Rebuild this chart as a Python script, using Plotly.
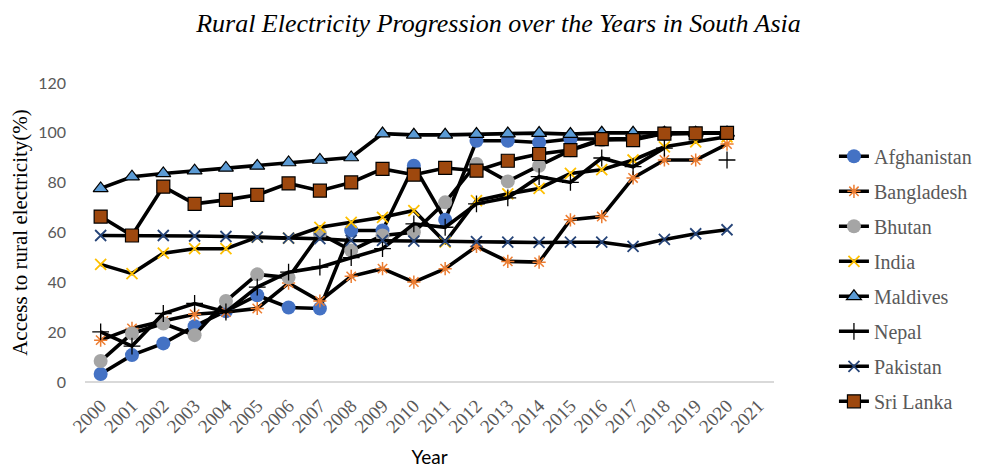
import plotly.graph_objects as go

years = list(range(2000, 2021))
tick_years = list(range(2000, 2022))

afghanistan = [3.2, 10.8, 15.5, 22.4, 28.4, 34.8, 29.9, 29.5, 60.8, 60.8, 86.8, 65.1, 96.8, 96.8, 96.1, 97.5, 97.5, 97.7, 99.7, 99.8, 100]
bangladesh = [16.8, 21.5, 24.5, 27.2, 28.1, 29.5, 39.7, 32.5, 42.4, 45.5, 40.1, 45.5, 54.4, 48.4, 48.1, 65.1, 66.4, 81.9, 89.1, 89.1, 95.5]
bhutan = [8.4, 19.5, 23.5, 18.8, 32.5, 43.2, 41.9, 59.5, 52.8, 58.8, 60.1, 72.1, 87.5, 80.5, 86.8, 93.0, 97.0, 97.5, 99.8, 99.9, 100]
india = [47.2, 43.5, 51.7, 53.5, 53.5, 58.1, 57.7, 62.1, 64.1, 66.1, 68.8, 56.1, 72.8, 75.5, 77.7, 83.7, 85.2, 89.1, 94.4, 96.4, 98.4]
maldives = [77.7, 82.4, 83.7, 84.8, 85.9, 86.7, 88.1, 89.1, 90.1, 99.7, 99.2, 99.2, 99.5, 99.7, 99.9, 99.5, 100, 100, 100, 100, 100]
nepal = [20.1, 14.4, 27.5, 31.5, 28.1, 38.1, 44.1, 46.1, 49.9, 53.5, 63.5, 62.1, 71.5, 73.9, 82.4, 80.1, 89.9, 86.4, 93.9, None, 89.1]
pakistan = [58.8, 58.8, 58.8, 58.6, 58.4, 58.1, 57.7, 57.5, 56.8, 56.8, 56.5, 56.5, 56.3, 56.1, 56.0, 56.1, 56.1, 54.4, 57.2, 59.5, 61.1]
sri_lanka = [66.4, 58.8, 78.4, 71.5, 73.1, 75.1, 79.7, 76.8, 80.1, 85.5, 83.2, 85.9, 84.8, 88.8, 91.5, 93.1, 97.5, 97.1, 99.7, 99.8, 100]

series = [
    ("Afghanistan", afghanistan, dict(symbol="circle", size=14, color="#4472C4")),
    ("Bangladesh", bangladesh, dict(symbol="asterisk-open", size=11, color="#ED7D31", line=dict(color="#ED7D31", width=1.5))),
    ("Bhutan", bhutan, dict(symbol="circle", size=14, color="#A5A5A5")),
    ("India", india, dict(symbol="x-thin-open", size=11, color="#FFC000", line=dict(color="#FFC000", width=1.8))),
    ("Maldives", maldives, dict(symbol="triangle-up", size=13, color="#5B9BD5", line=dict(color="black", width=1.2))),
    ("Nepal", nepal, dict(symbol="cross-thin-open", size=12, color="black", line=dict(color="black", width=1.3))),
    ("Pakistan", pakistan, dict(symbol="x-thin-open", size=11, color="#264478", line=dict(color="#264478", width=1.8))),
    ("Sri Lanka", sri_lanka, dict(symbol="square", size=13, color="#9E480E", line=dict(color="black", width=1.2))),
]

fig = go.Figure()
for i, (name, vals, mk) in enumerate(series):
    fig.add_trace(go.Scatter(
        x=years, y=vals, name=name, mode="lines+markers",
        line=dict(color="black", width=3.6), marker=mk,
        connectgaps=False, legendgroup=f"g{i}",
    ))

fig.update_layout(
    width=981, height=469,
    paper_bgcolor="white", plot_bgcolor="white",
    margin=dict(l=77, r=206, t=75, b=95),
    title=dict(text="<i>Rural Electricity Progression over the Years in South Asia</i>",
               x=0.5, xanchor="center", y=0.968, yanchor="middle",
               font=dict(family="Liberation Serif", size=26, color="black")),
    showlegend=True,
    legend=dict(x=1.087, y=0.82, xanchor="left", yanchor="top",
                font=dict(family="Liberation Serif", size=20, color="#595959"),
                tracegroupgap=6, bgcolor="rgba(0,0,0,0)"),
    xaxis=dict(range=[1999.5, 2021.5], tickmode="array", tickvals=tick_years,
               ticktext=[str(y) for y in tick_years], tickangle=-45,
               tickfont=dict(family="Liberation Serif", size=19, color="#595959"),
               ticklabelstandoff=8,
               showgrid=False, zeroline=False, showline=False, ticks="",
               title=dict(text="Year", font=dict(family="Lato", size=19, color="black"), standoff=14)),
    yaxis=dict(range=[0, 120], tickvals=[0, 20, 40, 60, 80, 100, 120],
               tickfont=dict(family="Lato", size=16, color="#595959"),
               ticklabelstandoff=18,
               showgrid=False, zeroline=True, zerolinecolor="#D9D9D9", zerolinewidth=1.5,
               showline=False, ticks="", ticklen=0,
               title=dict(text="Access to rural electricity(%)",
                          font=dict(family="Liberation Serif", size=21, color="black"), standoff=4)),
)

fig.write_html("out.html")
